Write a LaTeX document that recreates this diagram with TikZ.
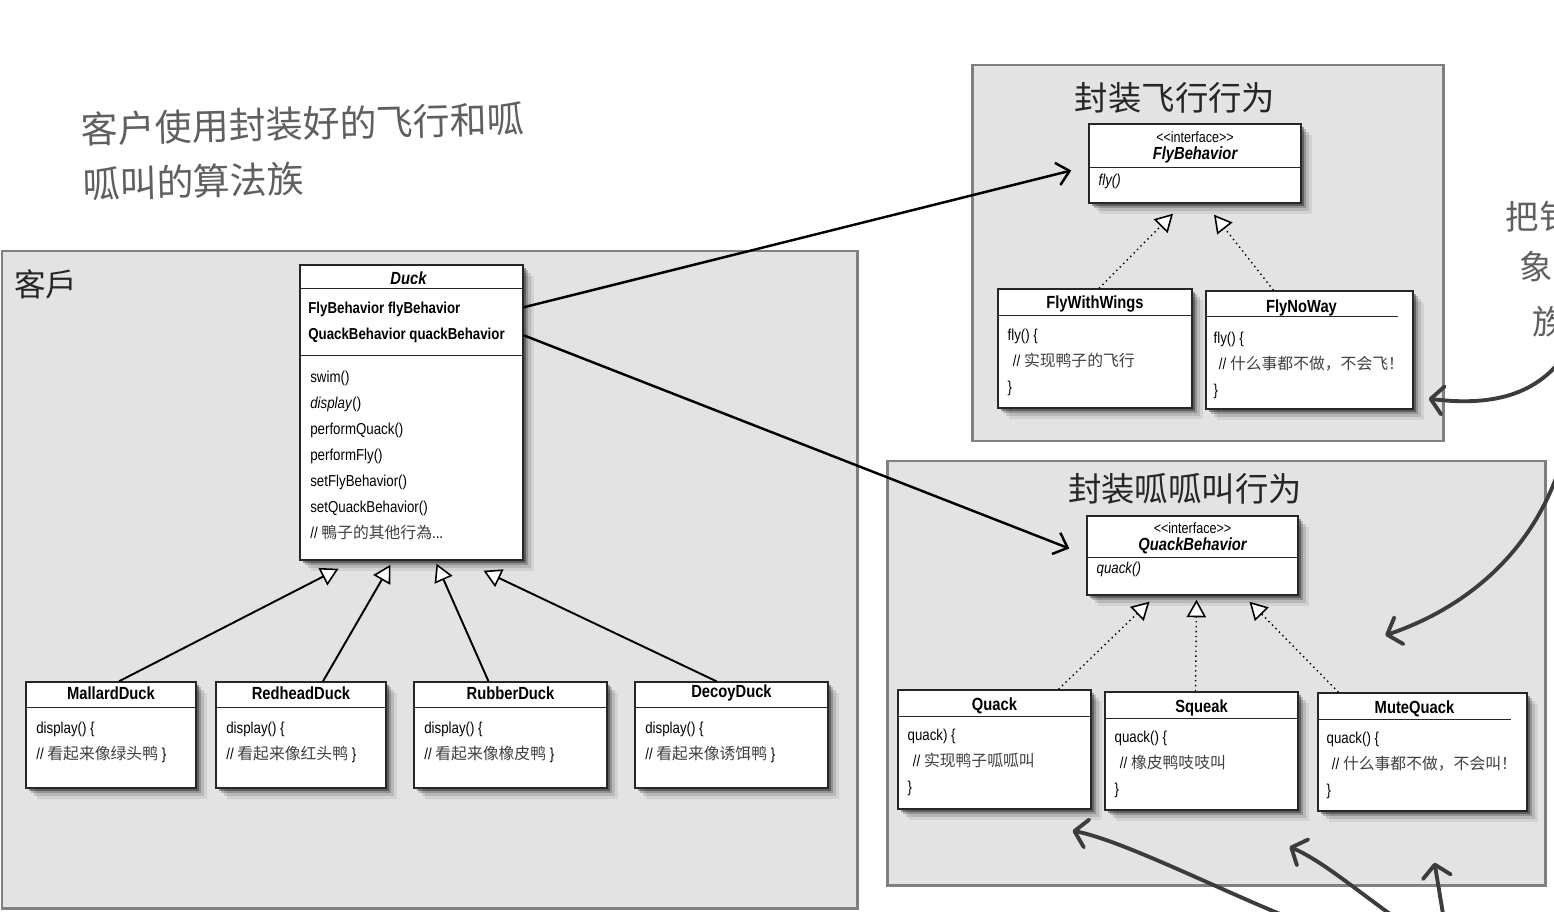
\documentclass[tikz,border=0pt]{standalone}
\usepackage{fontspec}
\usetikzlibrary{arrows.meta, positioning, calc, fit, shadows}
\newfontfamily\umlfont{Liberation Sans}[FakeStretch=0.84]
\newfontfamily\hanfont{Noto Sans CJK SC}
\definecolor{GroupFill}{RGB}{227,227,227}
\definecolor{GroupEdge}{RGB}{128,128,128}
\definecolor{Pencil}{RGB}{60,60,60}
\definecolor{NoteGray}{RGB}{95,95,95}
\newcommand{\zh}[1]{{\hanfont\fontsize{9}{14.8}\selectfont\color{black!75}#1}}

\begin{document}
\begin{tikzpicture}[x=0.02cm, y=-0.02cm,
    group/.style={draw=GroupEdge, fill=GroupFill, line width=1.7pt, inner sep=0pt},
    softshadow/.style={drop shadow={shadow xshift=1.5pt, shadow yshift=-1.5pt, fill=black, opacity=.35},
                       drop shadow={shadow xshift=3pt, shadow yshift=-3pt, fill=black, opacity=.2},
                       drop shadow={shadow xshift=4.5pt, shadow yshift=-4.5pt, fill=black, opacity=.12},
                       drop shadow={shadow xshift=6pt, shadow yshift=-6pt, fill=black, opacity=.07}},
    umlbox/.style={draw=black!85, fill=white, line width=0.8pt, inner sep=0pt, softshadow},
    sep/.style={draw=black!85, line width=0.8pt},
    grouptitle/.style={font=\hanfont\fontsize{19}{19}\selectfont, text=black!85},
    note/.style={font=\hanfont\fontsize{21}{31}\selectfont, text=NoteGray, align=left},
    sidenote/.style={font=\hanfont\fontsize{19}{19}\selectfont, text=NoteGray},
    clsname/.style={font=\umlfont\bfseries\fontsize{10}{10}\selectfont, inner sep=0pt},
    stereo/.style={font=\umlfont\fontsize{8.5}{8.5}\selectfont, inner sep=0pt},
    members/.style={anchor=west, align=left, inner sep=0pt, font=\umlfont\fontsize{9}{14.8}\selectfont},
    attrs/.style={members, font=\umlfont\bfseries\fontsize{9}{14.8}\selectfont},
    inherit/.style={line width=1.1pt, -{Triangle[fill=white, length=10pt, width=11pt, line width=0.9pt]}},
    realize/.style={line width=0.8pt, dotted, -{Triangle[fill=white, length=10pt, width=11pt, line width=0.9pt]}},
    assoc/.style={line width=1.4pt, -{Straight Barb[length=7pt, width=13pt]}},
    scribble/.style={draw=Pencil, line width=2.2pt, line cap=round, -{Straight Barb[length=7pt, width=16pt, round]}}
]
    \useasboundingbox (0,0) rectangle (1554,912);
    \clip (0,0) rectangle (1554,912);

    % the three grey areas
    \node[group, fit={(2,251)(857,908)}] (client) {};
    \node[group, fit={(972,65)(1443,441)}] (flygrp) {};
    \node[group, fit={(887,461)(1545,885)}] (quackgrp) {};

    \node[grouptitle, font=\hanfont\fontsize{18}{18}\selectfont] (clientT) at (46,284) {客戶};
    \node[grouptitle] (flyT) at (1175,98) {封装飞行行为};
    \node[grouptitle] (quackT) at (1185,489) {封装呱呱叫行为};

    \node[note, anchor=west, rotate=1.5] (clientNote) at (76,157) {客户使用封装好的飞行和呱\\呱叫的算法族};
    \node[sidenote] (sideA) at (1539,217) {把钅};
    \node[sidenote] (sideB) at (1536,267) {象};
    \node[sidenote] (sideC) at (1549,322) {族};

    % Duck
    \node[umlbox, fit={(300,265)(523,560)}] (duck) {};
    \draw[sep] ($(duck.north west)+(0,24)$) -- ($(duck.north east)+(0,24)$);
    \draw[sep] ($(duck.north west)+(0,91)$) -- ($(duck.north east)+(0,91)$);
    \node[clsname] (duckN) at ($(duck.north)+(-3,14)$) {\itshape Duck};
    \node[attrs] (duckA) at (308,322) {FlyBehavior flyBehavior\\QuackBehavior quackBehavior};
    \node[members] (duckM) at (310,455) {swim()\\\textit{display}()\\performQuack()\\performFly()\\setFlyBehavior()\\setQuackBehavior()\\// \zh{鴨子的其他行為}...};

    % the four ducks
    \foreach \nm/\lx/\rx/\title/\look in {mallard/26/196/MallardDuck/绿头鸭, redhead/216/386/RedheadDuck/红头鸭, rubber/414/607/RubberDuck/橡皮鸭, decoy/635/828/DecoyDuck/诱饵鸭}{
        \node[umlbox, fit={(\lx,682)(\rx,788)}] (\nm) {};
        \draw[sep] ($(\nm.north west)+(0,26)$) -- ($(\nm.north east)+(0,26)$);
        \node[clsname] (\nm N) at ($(\nm.north)+(0,12)$) {\title};
        \node[members] (\nm M) at (\lx+10,742) {display() \{\\// \zh{看起来像\look} \}};
    }

    % fly behaviours
    \node[umlbox, fit={(1089,124)(1301,203)}] (flyif) {};
    \draw[sep] ($(flyif.north west)+(0,44)$) -- ($(flyif.north east)+(0,44)$);
    \node[stereo] (flyifS) at ($(flyif.north)+(0,14)$) {<\kern0pt<interface>\kern0pt>};
    \node[clsname] (flyifN) at ($(flyif.north)+(0,32)$) {\itshape FlyBehavior};
    \node[members] (flyifM) at ($(flyif.north west)+(10,58)$) {\itshape fly()};

    \node[umlbox, fit={(998,289)(1192,408)}] (fww) {};
    \draw[sep] ($(fww.north west)+(0,27)$) -- ($(fww.north east)+(0,27)$);
    \node[clsname] (fwwN) at ($(fww.north)+(0,16)$) {FlyWithWings};
    \node[members] (fwwM) at ($(fww.north west)+(10,74)$) {fly() \{\\\hspace{3pt}// \zh{实现鸭子的飞行}\\\}};

    \node[umlbox, fit={(1206,291)(1413,409)}] (fnw) {};
    \draw[sep] ($(fnw.north west)+(0,26)$) -- ($(fnw.north east)+(-16,26)$);
    \node[clsname] (fnwN) at ($(fnw.north)+(-8,18)$) {FlyNoWay};
    \node[members] (fnwM) at ($(fnw.north west)+(8,75)$) {fly() \{\\\hspace{3pt}// \zh{什么事都不做，不会飞！}\\\}};

    % quack behaviours
    \node[umlbox, fit={(1087,516)(1298,595)}] (quackif) {};
    \draw[sep] ($(quackif.north west)+(0,42)$) -- ($(quackif.north east)+(0,42)$);
    \node[stereo] (quackifS) at ($(quackif.north)+(0,13)$) {<\kern0pt<interface>\kern0pt>};
    \node[clsname] (quackifN) at ($(quackif.north)+(0,31)$) {\itshape QuackBehavior};
    \node[members] (quackifM) at ($(quackif.north west)+(10,54)$) {\itshape quack()};

    \node[umlbox, fit={(898,690)(1091,809)}] (quack) {};
    \draw[sep] ($(quack.north west)+(0,27)$) -- ($(quack.north east)+(0,27)$);
    \node[clsname] (quackN) at ($(quack.north)+(0,17)$) {Quack};
    \node[members] (quackM) at ($(quack.north west)+(10,73)$) {quack) \{\\\hspace{3pt}// \zh{实现鸭子呱呱叫}\\\}};

    \node[umlbox, fit={(1105,692)(1298,810)}] (squeak) {};
    \draw[sep] ($(squeak.north west)+(0,27)$) -- ($(squeak.north east)+(0,27)$);
    \node[clsname] (squeakN) at ($(squeak.north)+(0,17)$) {Squeak};
    \node[members] (squeakM) at ($(squeak.north west)+(10,73)$) {quack() \{\\\hspace{3pt}// \zh{橡皮鸭吱吱叫}\\\}};

    \node[umlbox, fit={(1318,693)(1527,811)}] (mute) {};
    \draw[sep] ($(mute.north west)+(0,27)$) -- ($(mute.north east)+(-17,27)$);
    \node[clsname] (muteN) at ($(mute.north)+(-8,17)$) {MuteQuack};
    \node[members] (muteM) at ($(mute.north west)+(9,73)$) {quack() \{\\\hspace{3pt}// \zh{什么事都不做，不会叫！}\\\}};

    % has-a
    \draw[assoc] ($(duck.north east)+(0,43)$) -- ($(flyif.west)+(-17,7)$);
    \draw[assoc] ($(duck.north east)+(0,71)$) -- ($(quackif.west)+(-17,-7)$);

    % is-a
    \draw[inherit] ($(mallard.north)+(8,0)$) -- ($(duck.south)+(-73,8)$);
    \draw[inherit] ($(redhead.north)+(22,0)$) -- ($(duck.south)+(-21,4)$);
    \draw[inherit] ($(rubber.north)+(-22,0)$) -- ($(duck.south)+(25,3)$);
    \draw[inherit] ($(decoy.north)+(-15,0)$) -- ($(duck.south)+(72,10)$);

    % implements
    \draw[realize] ($(fww.north)+(4,0)$) -- ($(flyif.south)+(-22,10)$);
    \draw[realize] ($(fnw.north)+(-36,0)$) -- ($(flyif.south)+(19,11)$);
    \draw[realize] ($(quack.north)+(64,0)$) -- ($(quackif.south)+(-43,6)$);
    \draw[realize] ($(squeak.north)+(-6,0)$) -- ($(quackif.south)+(4,4)$);
    \draw[realize] ($(mute.north)+(-84,0)$) -- ($(quackif.south)+(57,6)$);

    % pencil arrows
    \coordinate (penA) at (1556,366);
    \coordinate (penB) at (1556,478);
    \coordinate (penC) at (1280,914);
    \coordinate (penD) at (1390,914);
    \coordinate (penE) at (1443,914);
    \draw[scribble] (penA) .. controls (1525,400) and (1480,405) .. ($(fnw.south east)+(15,-11)$);
    \draw[scribble] (penB) .. controls (1525,560) and (1460,610) .. ($(mute.north west)+(68,-57)$);
    \draw[scribble] (penC) .. controls (1210,885) and (1120,840) .. ($(quack.south)+(78,21)$);
    \draw[scribble] (penD) .. controls (1350,885) and (1320,860) .. ($(squeak.south)+(88,36)$);
    \draw[scribble] (penE) -- ($(mute.south)+(12,51)$);
\end{tikzpicture}
\end{document}
